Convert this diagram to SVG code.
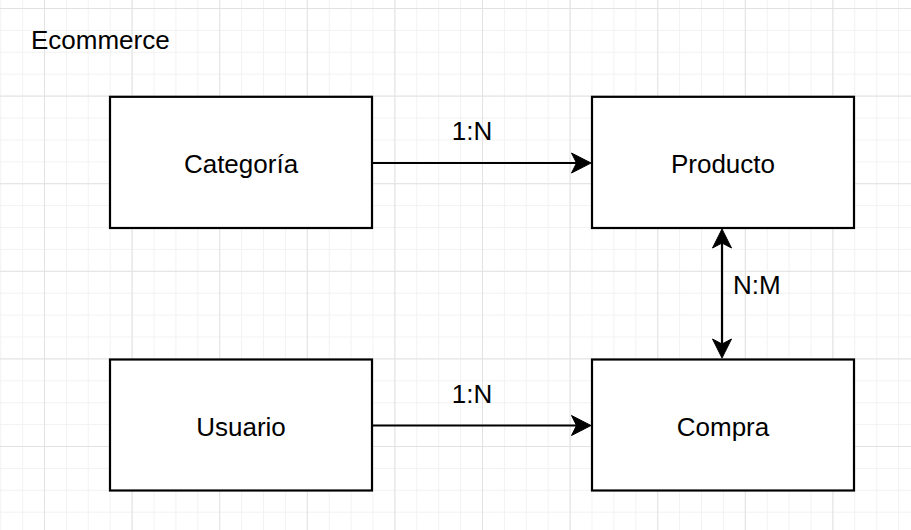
<svg xmlns="http://www.w3.org/2000/svg" width="911" height="530" viewBox="0 0 911 530">
<style>
.box{fill:#ffffff;stroke:#000000;stroke-width:2.2}
.t{font-family:"Liberation Sans",Arial,sans-serif;font-size:26px;fill:#000000}
.c{text-anchor:middle}
.edge{stroke:#000000;stroke-width:2.2;fill:none}
.head{fill:#000000;stroke:#000000;stroke-width:1}
</style>
<defs>
<pattern id="minor" x="0.2" y="8" width="21.9" height="21.9" patternUnits="userSpaceOnUse">
<path d="M0.5,0 V21.9 M0,0.5 H21.9" stroke="#f2f2f2" stroke-width="1" fill="none"/>
</pattern>
<pattern id="major" x="44" y="8" width="87.6" height="87.6" patternUnits="userSpaceOnUse">
<path d="M0.5,0 V87.6 M0,0.5 H87.6" stroke="#e2e2e2" stroke-width="1" fill="none"/>
</pattern>
</defs>
<rect width="911" height="530" fill="#ffffff"/>
<rect width="911" height="530" fill="url(#minor)"/>
<rect width="911" height="530" fill="url(#major)"/>
<text class="t" x="31" y="48.5">Ecommerce</text>
<g id="connectors">
<g id="e1">
<line class="edge" x1="372" y1="163" x2="578" y2="163"/>
<path class="head" d="M591,163 L571.5,153 L576.5,163 L571.5,173 Z"/>
<text class="t c" x="472" y="139.5">1:N</text>
</g>
<g id="e2">
<line class="edge" x1="722" y1="242" x2="722" y2="345"/>
<path class="head" d="M722,229 L712.5,248 L722,243 L731.5,248 Z"/>
<path class="head" d="M722,358 L712.5,339 L722,344 L731.5,339 Z"/>
<text class="t" x="733" y="293.5">N:M</text>
</g>
<g id="e3">
<line class="edge" x1="372" y1="425.5" x2="578" y2="425.5"/>
<path class="head" d="M591,425.5 L571.5,415.5 L576.5,425.5 L571.5,435.5 Z"/>
<text class="t c" x="472" y="402.5">1:N</text>
</g>
</g>
<g id="categoria">
<rect class="box" x="110" y="96.8" width="262" height="131.2"/>
<text class="t c" x="241" y="173">Categoría</text>
</g>
<g id="producto">
<rect class="box" x="592" y="96.8" width="262" height="131.2"/>
<text class="t c" x="723" y="173">Producto</text>
</g>
<g id="usuario">
<rect class="box" x="110" y="359.5" width="262" height="131"/>
<text class="t c" x="241" y="435.5">Usuario</text>
</g>
<g id="compra">
<rect class="box" x="592" y="359.5" width="262" height="131"/>
<text class="t c" x="723" y="435.5">Compra</text>
</g>
</svg>
